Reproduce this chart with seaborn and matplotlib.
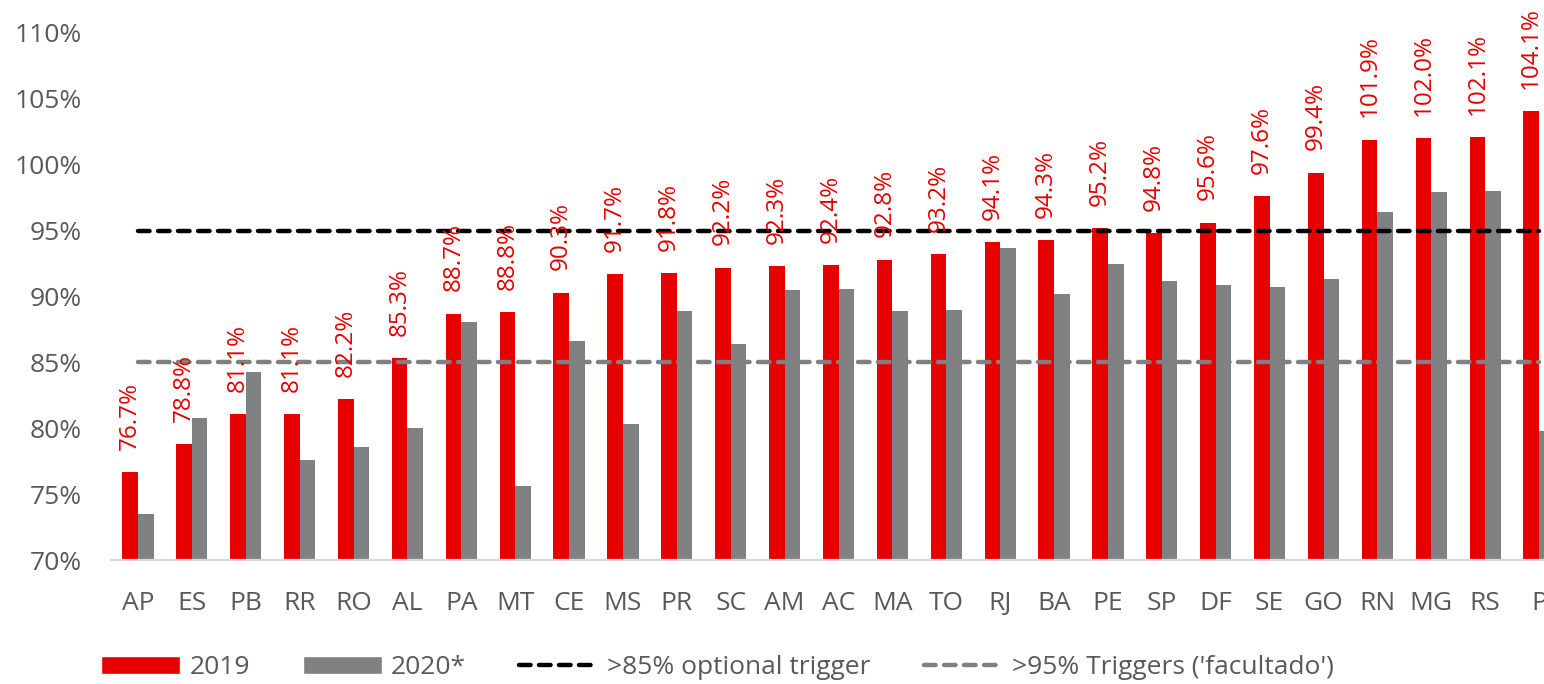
import matplotlib
matplotlib.use("Agg")
import matplotlib.pyplot as plt
import seaborn as sns
import pandas as pd
from matplotlib.patches import Patch
from matplotlib.lines import Line2D
from matplotlib.ticker import PercentFormatter

states = ['AP', 'ES', 'PB', 'RR', 'RO', 'AL', 'PA', 'MT', 'CE', 'MS', 'PR', 'SC', 'AM', 'AC',
          'MA', 'TO', 'RJ', 'BA', 'PE', 'SP', 'DF', 'SE', 'GO', 'RN', 'MG', 'RS', 'P']
vals_2019 = [76.7, 78.8, 81.1, 81.1, 82.2, 85.3, 88.7, 88.8, 90.3, 91.7, 91.8, 92.2, 92.3, 92.4,
             92.8, 93.2, 94.1, 94.3, 95.2, 94.8, 95.6, 97.6, 99.4, 101.9, 102.0, 102.1, 104.1]
vals_2020 = [73.5, 80.8, 84.3, 77.6, 78.6, 80.0, 88.1, 75.6, 86.6, 80.3, 88.9, 86.4, 90.5, 90.6,
             88.9, 89.0, 93.7, 90.2, 92.5, 91.2, 90.9, 90.7, 91.3, 96.4, 97.9, 98.0, 79.8]
years = ['2019', '2020*']
line_black = 95
line_gray = 85
legend_labels = ['2019', '2020*', '>85% optional trigger', ">95% Triggers ('facultado')"]

RED = '#E60000'
GRAY = '#7F8183'
TEXT = '#595959'

df = pd.DataFrame({
    'state': states * 2,
    'value': vals_2019 + vals_2020,
    'year': [years[0]] * len(states) + [years[1]] * len(states),
})

sns.set_style('white')
plt.rcParams['font.family'] = ['Open Sans', 'DejaVu Sans']

fig = plt.figure(figsize=(15.44, 6.84), dpi=100)
ax = fig.add_axes([111 / 1544, 124 / 684, 1455 / 1544, 527 / 684])

sns.barplot(data=df, x='state', y='value', hue='year', order=states, hue_order=years,
            palette=[RED, GRAY], width=0.58, gap=0, saturation=1, errorbar=None,
            linewidth=0, legend=False, ax=ax)

# threshold lines (labels swapped as in the source chart)
ax.plot(range(len(states)), [line_black] * len(states), color='black', lw=3.2,
        dashes=(2.6, 1.9), dash_capstyle='round')
ax.plot(range(len(states)), [line_gray] * len(states), color='#808080', lw=3.2,
        dashes=(2.6, 1.9), dash_capstyle='round')

for patch, v in zip(ax.containers[0], vals_2019):
    ax.annotate(f'{v:.1f}%', (patch.get_x() + patch.get_width() / 2, v),
                xytext=(0, 16), textcoords='offset points', rotation=90,
                ha='center', va='bottom', color=RED, fontsize=17.5)

ax.set_xlim(-0.5, len(states) - 0.5)
ax.set_ylim(70, 110)
ax.set_yticks(range(70, 111, 5))
ax.yaxis.set_major_formatter(PercentFormatter(decimals=0))
ax.set_xlabel('')
ax.set_ylabel('')
sns.despine(ax=ax, left=True)
ax.spines['bottom'].set_color('#D9D9D9')
ax.spines['bottom'].set_linewidth(1.6)
ax.tick_params(axis='y', length=0, pad=21, labelsize=19, labelcolor=TEXT)
ax.tick_params(axis='x', length=0, pad=22, labelsize=19, labelcolor=TEXT)

handles = [
    Patch(facecolor=RED),
    Patch(facecolor=GRAY),
    Line2D([], [], color='black', lw=3.2, dashes=(2.6, 1.9), dash_capstyle='round'),
    Line2D([], [], color='#808080', lw=3.2, dashes=(2.6, 1.9), dash_capstyle='round'),
]
leg = fig.legend(handles, legend_labels, loc='center left', bbox_to_anchor=(101 / 1544, 16 / 684),
                 ncol=4, frameon=False, fontsize=19, handlelength=3.0, handleheight=0.65,
                 handletextpad=0.35, columnspacing=2.0, borderpad=0, borderaxespad=0)
for t in leg.get_texts():
    t.set_color(TEXT)

fig.savefig('out.png', dpi=100)
